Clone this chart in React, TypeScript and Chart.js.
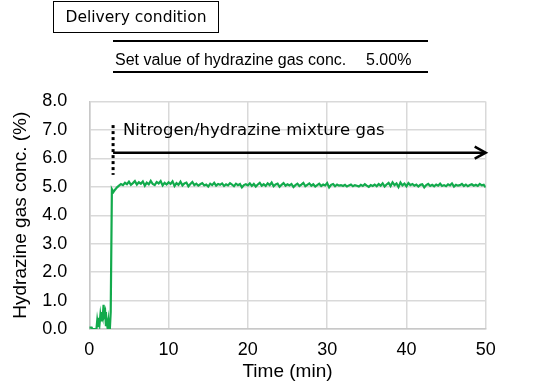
import React, { useEffect, useRef } from 'react';
import { Chart, registerables } from 'chart.js';

Chart.register(...registerables);

// ---- data ----
const earlyTime = [0, 0.3, 0.4, 0.9, 1.0, 1.1, 1.2, 1.3, 1.4, 1.5, 1.6, 1.7, 1.8, 1.9, 2.0, 2.1, 2.2, 2.3, 2.4, 2.5, 2.6, 2.7, 2.85, 3.05, 3.25];
const earlyConc = [0.05, 0.05, 0.0, 0.0, 0.3, 0.1, 0.4, 0.2, 0.5, 0.3, 0.6, 0.45, 0.85, 0.5, 0.6, 0.1, 0.25, 0.05, 0.3, 0.0, 0.05, 0.6, 4.92, 4.82, 4.9];

const steadyTime = [
  3.5, 3.75,
  4, 4.25, 4.5, 4.75, 5, 5.25, 5.5, 5.75, 6, 6.25, 6.5, 6.75, 7, 7.25, 7.5, 7.75, 8, 8.25, 8.5, 8.75, 9, 9.25, 9.5, 9.75,
  10, 10.25, 10.5, 10.75, 11, 11.25, 11.5, 11.75, 12, 12.25, 12.5, 12.75, 13, 13.25, 13.5, 13.75, 14, 14.25, 14.5, 14.75,
  15, 15.25, 15.5, 15.75, 16, 16.25, 16.5, 16.75, 17, 17.25, 17.5, 17.75, 18, 18.25, 18.5, 18.75, 19, 19.25, 19.5, 19.75,
  20, 20.25, 20.5, 20.75, 21, 21.25, 21.5, 21.75, 22, 22.25, 22.5, 22.75, 23, 23.25, 23.5, 23.75, 24, 24.25, 24.5, 24.75,
  25, 25.25, 25.5, 25.75, 26, 26.25, 26.5, 26.75, 27, 27.25, 27.5, 27.75, 28, 28.25, 28.5, 28.75, 29, 29.25, 29.5, 29.75,
  30, 30.25, 30.5, 30.75, 31, 31.25, 31.5, 31.75, 32, 32.25, 32.5, 32.75, 33, 33.25, 33.5, 33.75, 34, 34.25, 34.5, 34.75,
  35, 35.25, 35.5, 35.75, 36, 36.25, 36.5, 36.75, 37, 37.25, 37.5, 37.75, 38, 38.25, 38.5, 38.75, 39, 39.25, 39.5, 39.75,
  40, 40.25, 40.5, 40.75, 41, 41.25, 41.5, 41.75, 42, 42.25, 42.5, 42.75, 43, 43.25, 43.5, 43.75, 44, 44.25, 44.5, 44.75,
  45, 45.25, 45.5, 45.75, 46, 46.25, 46.5, 46.75, 47, 47.25, 47.5, 47.75, 48, 48.25, 48.5, 48.75, 49, 49.25, 49.5, 49.75,
  50,
];
const steadyConc = [
  4.98, 5.04,
  5.10, 5.06, 5.14, 5.09, 5.18, 5.07, 5.13, 5.20, 5.08, 5.16, 5.11, 5.19, 5.04, 5.15, 5.09, 5.21, 5.10, 5.06, 5.17, 5.12, 5.20, 5.05, 5.14, 5.08,
  5.16, 5.10, 5.19, 5.03, 5.13, 5.07, 5.18, 5.05, 5.12, 5.15, 5.02, 5.10, 5.17, 5.06, 5.11, 5.04, 5.09, 5.13, 5.05, 5.08,
  5.01, 5.11, 5.06, 5.14, 5.04, 5.10, 5.07, 5.12, 5.03, 5.09, 5.05, 5.13, 5.08, 5.02, 5.11, 5.06, 5.10, 4.98, 5.06, 5.09,
  5.05, 5.12, 5.03, 5.10, 5.01, 5.08, 5.14, 5.04, 5.09, 5.03, 5.12, 5.06, 5.15, 5.02, 5.08, 5.11, 5.00, 5.07, 5.13, 5.04,
  5.09, 5.05, 5.10, 4.99, 5.06, 5.11, 5.03, 5.08, 5.14, 5.02, 5.07, 5.12, 5.04, 5.09, 5.01, 5.06, 5.11, 5.03, 5.08, 5.05,
  5.13, 4.98, 5.07, 5.10, 5.02, 5.08, 5.04, 5.06, 5.03, 5.07, 5.01, 5.05, 5.08, 5.02, 5.06, 5.04, 5.01, 5.07, 5.03, 5.09,
  5.04, 5.00, 5.06, 5.03, 5.08, 5.02, 5.10, 5.04, 5.12, 5.01, 5.08, 5.14, 5.03, 5.16, 5.06, 5.12, 4.99, 5.15, 5.05, 5.11,
  5.02, 5.13, 5.06, 5.10, 5.04, 5.08, 5.01, 5.07, 5.09, 4.98, 5.06, 5.10, 5.03, 5.07, 5.02, 5.08, 5.04, 5.11, 5.03, 5.06,
  5.02, 5.09, 5.05, 5.12, 5.01, 5.07, 5.04, 5.06, 5.10, 5.03, 5.08, 5.02, 5.06, 5.09, 5.04, 5.07, 5.03, 5.10, 5.05, 5.07,
  4.98,
];

const X_MIN = 0;
const X_MAX = 50;
const X_STEP = 10;
const Y_MIN = 0;
const Y_MAX = 8;
const Y_STEP = 1;

const xTitle = 'Time (min)';
const yTitle = 'Hydrazine gas conc. (%)';
const boxTitle = 'Delivery condition';
const setValueLabel = 'Set value of hydrazine gas conc.';
const setValueText = '5.00%';

const annotationLabel = 'Nitrogen/hydrazine mixture gas';
const annotationLabelX = 4.25;
const annotationLabelY = 6.97;
const arrowStartX = 3;
const arrowEndX = 50;
const arrowY = 6.2;
const markerX = 3;
const markerTopY = 7.17;
const markerBottomY = 5.42;

const LINE_COLOR = '#12aa4c';

const annotationPlugin = {
  id: 'gasAnnotation',
  afterDatasetsDraw(chart: any) {
    const { ctx, scales } = chart;
    const xs = scales.x;
    const ys = scales.y;
    ctx.save();
    // dotted vertical marker
    const mx = xs.getPixelForValue(markerX);
    ctx.strokeStyle = '#000';
    ctx.lineWidth = 3;
    ctx.lineCap = 'butt';
    ctx.setLineDash([3, 3]);
    ctx.beginPath();
    ctx.moveTo(mx, ys.getPixelForValue(markerTopY));
    ctx.lineTo(mx, ys.getPixelForValue(markerBottomY));
    ctx.stroke();
    ctx.setLineDash([]);
    // arrow
    const ay = ys.getPixelForValue(arrowY);
    const ax0 = xs.getPixelForValue(arrowStartX);
    const ax1 = xs.getPixelForValue(arrowEndX);
    ctx.lineWidth = 2.5;
    ctx.beginPath();
    ctx.moveTo(ax0, ay);
    ctx.lineTo(ax1 - 1, ay);
    ctx.stroke();
    ctx.lineJoin = 'miter';
    ctx.beginPath();
    ctx.moveTo(ax1 - 11, ay - 6);
    ctx.lineTo(ax1, ay);
    ctx.lineTo(ax1 - 11, ay + 6);
    ctx.stroke();
    // label
    ctx.fillStyle = '#000';
    ctx.font = '16.5px "DejaVu Sans"';
    ctx.textAlign = 'left';
    ctx.textBaseline = 'middle';
    ctx.fillText(annotationLabel, xs.getPixelForValue(annotationLabelX), ys.getPixelForValue(annotationLabelY));
    ctx.restore();
  },
};

export default function App() {
  const canvasRef = useRef<HTMLCanvasElement | null>(null);

  useEffect(() => {
    if (!canvasRef.current) return;
    const points = [
      ...earlyTime.map((t, i) => ({ x: t, y: earlyConc[i] })),
      ...steadyTime.map((t, i) => ({ x: t, y: steadyConc[i] })),
    ];
    const tickFont = { family: '"Liberation Sans", Arial, sans-serif', size: 18 };
    const titleFont = { family: '"Liberation Sans", Arial, sans-serif', size: 19 };
    const chart = new Chart(canvasRef.current, {
      type: 'line',
      data: {
        datasets: [
          {
            data: points,
            borderColor: LINE_COLOR,
            borderWidth: 2.2,
            pointRadius: 0,
            tension: 0,
            fill: false,
          },
        ],
      },
      options: {
        animation: false,
        responsive: false,
        devicePixelRatio: 1,
        layout: { padding: { top: 101.5, right: 58.3, bottom: 0, left: 0 } },
        plugins: { legend: { display: false }, tooltip: { enabled: false } },
        scales: {
          x: {
            type: 'linear',
            min: X_MIN,
            max: X_MAX,
            ticks: { stepSize: X_STEP, font: tickFont, color: '#000', padding: 10 },
            grid: { color: '#d9d9d9', lineWidth: 1.5, drawTicks: false },
            border: { color: '#c8c8c8', width: 1.5 },
            title: { display: true, text: xTitle, font: titleFont, color: '#000', padding: { top: 0, bottom: 3 } },
            afterFit(s: any) {
              s.height = 57;
            },
          },
          y: {
            type: 'linear',
            min: Y_MIN,
            max: Y_MAX,
            ticks: {
              stepSize: Y_STEP,
              font: tickFont,
              color: '#000',
              padding: 22,
              callback: (v: any) => Number(v).toFixed(1),
            },
            grid: { color: '#d9d9d9', lineWidth: 1.5, drawTicks: false },
            border: { color: '#c8c8c8', width: 1.5 },
            title: { display: true, text: yTitle, font: titleFont, color: '#000', padding: { top: 9, bottom: 0 } },
            afterFit(s: any) {
              s.width = 89.3;
            },
          },
        },
      },
      plugins: [annotationPlugin],
    } as any);
    return () => chart.destroy();
  }, []);

  return (
    <div style={{ position: 'absolute', left: 0, top: 0, width: 544, height: 386, background: '#fff' }}>
      <canvas ref={canvasRef} width={544} height={386} style={{ position: 'absolute', left: 0, top: 0, width: 544, height: 386 }} />
      <div
        style={{
          position: 'absolute',
          left: 53,
          top: 1,
          width: 166,
          height: 32,
          boxSizing: 'border-box',
          border: '1.5px solid #000',
          display: 'flex',
          alignItems: 'center',
          justifyContent: 'center',
          fontFamily: '"DejaVu Sans", sans-serif',
          fontSize: 15.5,
          color: '#000',
          lineHeight: '16px',
        }}
      >
        {boxTitle}
      </div>
      <div
        style={{
          position: 'absolute',
          left: 113,
          top: 40.3,
          width: 315,
          height: 32.4,
          boxSizing: 'border-box',
          borderTop: '2px solid #000',
          borderBottom: '2px solid #000',
        }}
      />
      <span
        style={{
          position: 'absolute',
          left: 115,
          top: 51.5,
          fontFamily: '"Liberation Sans", Arial, sans-serif',
          fontSize: 16,
          lineHeight: '16px',
          color: '#000',
          whiteSpace: 'nowrap',
        }}
      >
        {setValueLabel}
      </span>
      <span
        style={{
          position: 'absolute',
          left: 366,
          top: 51.5,
          fontFamily: '"Liberation Sans", Arial, sans-serif',
          fontSize: 16,
          lineHeight: '16px',
          color: '#000',
          whiteSpace: 'nowrap',
        }}
      >
        {setValueText}
      </span>
    </div>
  );
}
